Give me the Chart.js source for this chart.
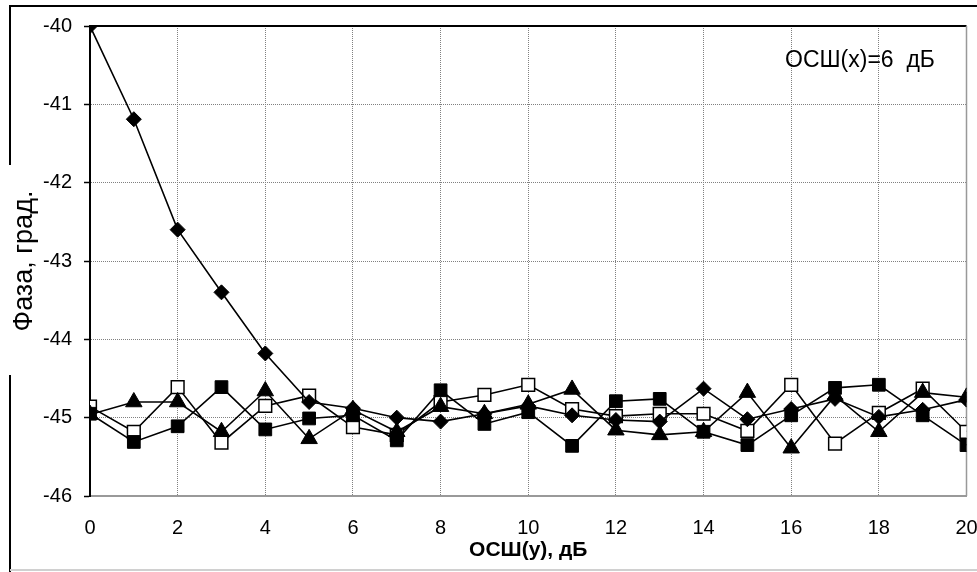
<!DOCTYPE html>
<html>
<head>
<meta charset="utf-8">
<script src="https://cdn.jsdelivr.net/npm/chart.js@4"></script>
<style>
  html, body { margin: 0; padding: 0; background: #fff; }
  #phaseChart { display: block; }
</style>
</head>
<body>
<canvas id="phaseChart" width="977" height="572"></canvas>
<script>
// SNR of the y channel, dB
const snrY = [0, 1, 2, 3, 4, 5, 6, 7, 8, 9, 10, 11, 12, 13, 14, 15, 16, 17, 18, 19, 20];

// phase estimates, degrees
const phaseDiamond = [-40, -41.19, -42.6, -43.4, -44.18, -44.8, -44.88, -45.0, -45.05, -44.95, -44.85,
  -44.97, -45.03, -45.05, -44.63, -45.02, -44.89, -44.76, -44.99, -44.9, -44.77];
const phaseOpenSquare = [-44.86, -45.18, -44.61, -45.32, -44.85, -44.72, -45.12, -45.22, -44.8, -44.71, -44.58,
  -44.89, -44.98, -44.95, -44.95, -45.17, -44.58, -45.33, -44.94, -44.63, -45.18];
const phaseTriangle = [-44.96, -44.8, -44.8, -45.18, -44.66, -45.27, -44.9, -45.18, -44.86, -44.95, -44.83,
  -44.64, -45.16, -45.22, -45.18, -44.68, -45.39, -44.72, -45.18, -44.68, -44.74];
const phaseSquare = [-44.95, -45.31, -45.11, -44.61, -45.15, -45.01, -44.97, -45.29, -44.65, -45.08, -44.93,
  -45.36, -44.79, -44.76, -45.18, -45.35, -44.97, -44.62, -44.58, -44.97, -45.35];

const xTicks = [0, 2, 4, 6, 8, 10, 12, 14, 16, 18, 20];
const yTicks = [-46, -45, -44, -43, -42, -41, -40];

const noteText = "ОСШ(x)=6  дБ";
const xTitle = "ОСШ(у), дБ";
const yTitle = "Фаза, град.";

const FONT = "'Liberation Sans', Arial, sans-serif";

function toPoints(values) {
  return values.map((v, i) => ({ x: snrY[i], y: v }));
}

function series(label, values, style, radius, fill, pointBorder) {
  return {
    label: label,
    data: toPoints(values),
    showLine: true,
    tension: 0,
    borderColor: '#000',
    borderWidth: 1.6,
    pointStyle: style,
    pointRadius: radius,
    pointBackgroundColor: fill,
    pointBorderColor: '#000',
    pointBorderWidth: pointBorder
  };
}

// outer frame, plot border and the SNR(x) note
const framePlugin = {
  id: 'frame',
  beforeDraw(chart) {
    const ctx = chart.ctx;
    ctx.save();
    ctx.fillStyle = '#fff';
    ctx.fillRect(0, 0, chart.width, chart.height);
    ctx.strokeStyle = '#000';
    ctx.lineWidth = 2;
    ctx.beginPath();
    ctx.moveTo(10, 6);
    ctx.lineTo(chart.width, 6);
    ctx.moveTo(10, 5);
    ctx.lineTo(10, 165);
    ctx.moveTo(10, 375);
    ctx.lineTo(10, chart.height);
    ctx.stroke();
    ctx.strokeStyle = '#d0d0d0';
    ctx.beginPath();
    ctx.moveTo(10, 570);
    ctx.lineTo(chart.width, 570);
    ctx.stroke();
    ctx.restore();
  },
  beforeDatasetsDraw(chart) {
    const { ctx, chartArea: a } = chart;
    ctx.save();
    ctx.lineWidth = 2;
    ctx.strokeStyle = '#000';
    ctx.beginPath();
    ctx.moveTo(a.left - 1, a.top);
    ctx.lineTo(a.right, a.top);
    ctx.stroke();
    ctx.strokeStyle = '#999';
    ctx.lineWidth = 1.5;
    ctx.beginPath();
    ctx.moveTo(a.right, a.top);
    ctx.lineTo(a.right, a.bottom);
    ctx.stroke();
    ctx.restore();
  },
  afterDraw(chart) {
    const ctx = chart.ctx;
    ctx.save();
    ctx.fillStyle = '#000';
    ctx.font = '23px ' + FONT;
    ctx.textAlign = 'left';
    ctx.textBaseline = 'middle';
    ctx.fillText(noteText, 785, 60.5);
    ctx.restore();
  }
};

new Chart(document.getElementById('phaseChart'), {
  type: 'scatter',
  data: {
    datasets: [
      series('square', phaseSquare, 'rect', 9, '#000', 1),
      series('triangle', phaseTriangle, 'triangle', 9.5, '#000', 1),
      series('diamond', phaseDiamond, 'rectRot', 7.5, '#000', 1),
      series('open square', phaseOpenSquare, 'rect', 9, '#fff', 1.5)
    ]
  },
  options: {
    responsive: false,
    animation: false,
    events: [],
    layout: { padding: { top: 26, right: 6, left: 0, bottom: 0 } },
    plugins: {
      legend: { display: false },
      tooltip: { enabled: false }
    },
    scales: {
      x: {
        type: 'linear',
        min: 0,
        max: 20,
        afterBuildTicks: s => { s.ticks = xTicks.map(v => ({ value: v })); },
        afterFit: s => { s.height = 76; s.paddingLeft = 0; s.paddingRight = 0; },
        grid: { color: '#808080', lineWidth: 1, drawTicks: false },
        border: { color: '#999', width: 2, dash: [1, 1] },
        ticks: { color: '#000', padding: 20, maxRotation: 0, font: { family: FONT, size: 20 } },
        title: {
          display: true,
          text: xTitle,
          color: '#000',
          font: { family: FONT, size: 21, weight: 'bold' },
          padding: { top: 9, bottom: 9 }
        }
      },
      y: {
        type: 'linear',
        min: -46,
        max: -40,
        afterBuildTicks: s => { s.ticks = yTicks.map(v => ({ value: v })); },
        afterFit: s => { s.width = 90; s.paddingTop = 0; s.paddingBottom = 0; },
        grid: { color: '#808080', lineWidth: 1, tickLength: 6, tickColor: '#000', tickWidth: 1.5 },
        border: { color: '#000', width: 2, dash: [1, 1] },
        ticks: { color: '#000', padding: 12, font: { family: FONT, size: 20 } },
        title: {
          display: true,
          text: yTitle,
          color: '#000',
          font: { family: FONT, size: 27 },
          padding: { top: 8, bottom: 8 }
        }
      }
    }
  },
  plugins: [framePlugin]
});
</script>
</body>
</html>
